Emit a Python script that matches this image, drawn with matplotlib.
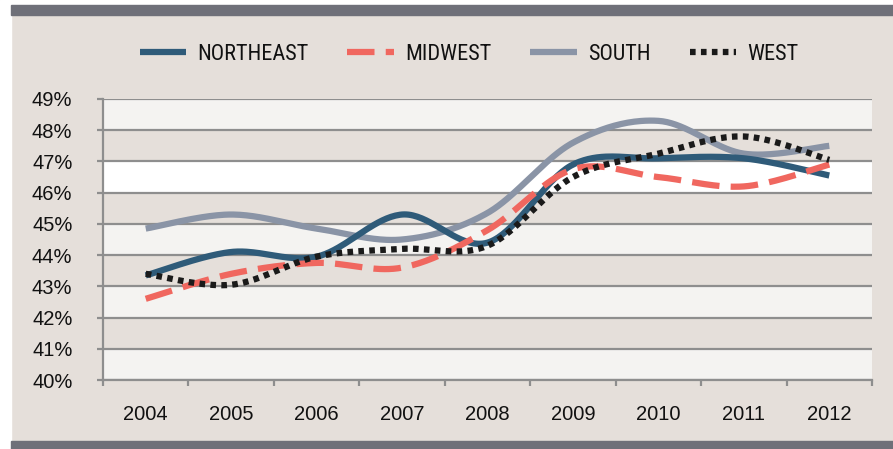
import numpy as np
import matplotlib
matplotlib.use("Agg")
import matplotlib.pyplot as plt
from matplotlib.patches import Rectangle

years = ["2004", "2005", "2006", "2007", "2008", "2009", "2010", "2011", "2012"]
northeast = [43.35, 44.1, 43.95, 45.3, 44.4, 46.9, 47.1, 47.1, 46.55]
midwest = [42.6, 43.4, 43.75, 43.6, 44.8, 46.75, 46.5, 46.2, 46.9]
south = [44.85, 45.3, 44.85, 44.5, 45.35, 47.6, 48.3, 47.25, 47.5]
west = [43.4, 43.05, 43.95, 44.2, 44.3, 46.5, 47.25, 47.8, 47.05]
series_names = ["NORTHEAST", "MIDWEST", "SOUTH", "WEST"]
y_ticks = list(range(40, 50))

TICK_FONT = ["Liberation Sans", "DejaVu Sans"]
LEG_FONT = ["Roboto Condensed", "Liberation Sans", "DejaVu Sans"]
plt.rcParams["font.family"] = TICK_FONT

BG = "#e5dfda"
LIGHT = "#f4f3f1"
GRID = "#8e8e8e"


def smooth(ys, n=40):
    x = np.arange(len(ys), dtype=float)
    y = np.asarray(ys, dtype=float)
    P = np.column_stack([x, y])
    ext = np.vstack([P[0], P, P[-1]])
    out = []
    t = np.linspace(0, 1, n)
    for i in range(len(P) - 1):
        p0, p1, p2, p3 = ext[i], ext[i + 1], ext[i + 2], ext[i + 3]
        c1 = p1 + (p2 - p0) / 6.0
        c2 = p2 - (p3 - p1) / 6.0
        seg = ((1 - t) ** 3)[:, None] * p1 + (3 * (1 - t) ** 2 * t)[:, None] * c1 \
            + (3 * (1 - t) * t ** 2)[:, None] * c2 + (t ** 3)[:, None] * p2
        out.append(seg if i == 0 else seg[1:])
    s = np.vstack(out)
    return s[:, 0], s[:, 1]


fig = plt.figure(figsize=(8.93, 4.49), dpi=100)
fig.patch.set_facecolor(BG)
fig.patches.append(Rectangle((0, 0), 11 / 893, 1, transform=fig.transFigure, color="white", zorder=0))
fig.patches.append(Rectangle((0, 1 - 5 / 449), 1, 5 / 449, transform=fig.transFigure, color="white", zorder=0))
fig.patches.append(Rectangle((11 / 893, 1 - 15 / 449), 1, 10 / 449, transform=fig.transFigure, color="#6f7079", zorder=1))
fig.patches.append(Rectangle((11 / 893, 0), 1, 8 / 449, transform=fig.transFigure, color="#6f7079", zorder=1))

ax = fig.add_axes([103 / 893, 1 - 380 / 449, (872 - 103) / 893, (380 - 99) / 449])
ax.set_facecolor(BG)
ax.set_xlim(-0.5, len(years) - 0.5)
ax.set_ylim(40, 49)

band_colors = [LIGHT, BG, LIGHT, BG, LIGHT, BG, "white", BG, LIGHT]
for k, c in zip(y_ticks[:-1], band_colors):
    ax.axhspan(k, k + 1, color=c, zorder=0, lw=0)
for k in y_ticks:
    ax.axhline(k, color=GRID, lw=1.6, zorder=1)

colors = {"NORTHEAST": "#2f5b79", "MIDWEST": "#f0675f", "SOUTH": "#8a94a6", "WEST": "#1a1a1a"}
data = {"NORTHEAST": northeast, "MIDWEST": midwest, "SOUTH": south, "WEST": west}
styles = {
    "SOUTH": dict(ls="-", lw=4.5, zorder=3),
    "NORTHEAST": dict(ls="-", lw=4.5, zorder=4),
    "MIDWEST": dict(ls=(0, (4.4, 1.8)), lw=4.5, zorder=5),
    "WEST": dict(ls=(0, (0.9, 0.85)), lw=4.5, zorder=6),
}
handles = {}
for name in ["SOUTH", "NORTHEAST", "MIDWEST", "WEST"]:
    xs, ys = smooth(data[name])
    st = styles[name]
    ln, = ax.plot(xs, ys, color=colors[name], ls=st["ls"], lw=st["lw"], zorder=st["zorder"],
                  solid_capstyle="butt", dash_capstyle="butt", label=name)
    handles[name] = ln

ax.set_yticks(y_ticks)
ax.set_yticklabels([f"{v}%" for v in y_ticks])
ax.set_xticks(np.arange(len(years)))
ax.set_xticklabels(years)
ax.set_xticks(np.arange(-0.5, len(years)), minor=True)
ax.tick_params(axis="x", which="major", length=0, pad=18, labelsize=14.5, labelcolor="#111111")
ax.tick_params(axis="x", which="minor", length=4, width=1.6, color=GRID, direction="out")
ax.tick_params(axis="y", length=4, width=1.6, color=GRID, pad=18, labelsize=14.5, labelcolor="#111111")
for s in ["top", "right"]:
    ax.spines[s].set_visible(False)
for s in ["left", "bottom"]:
    ax.spines[s].set_color(GRID)
    ax.spines[s].set_linewidth(1.6)
    ax.spines[s].set_zorder(2)

leg = fig.legend([handles[n] for n in series_names], series_names, loc="center",
                 bbox_to_anchor=(469 / 893, 1 - 54 / 449), ncol=4, frameon=False,
                 prop={"family": LEG_FONT, "size": 16}, handlelength=2.1,
                 handletextpad=0.5, columnspacing=1.75, labelcolor="#111111")

fig.savefig("out.png", dpi=100, facecolor=fig.get_facecolor())
